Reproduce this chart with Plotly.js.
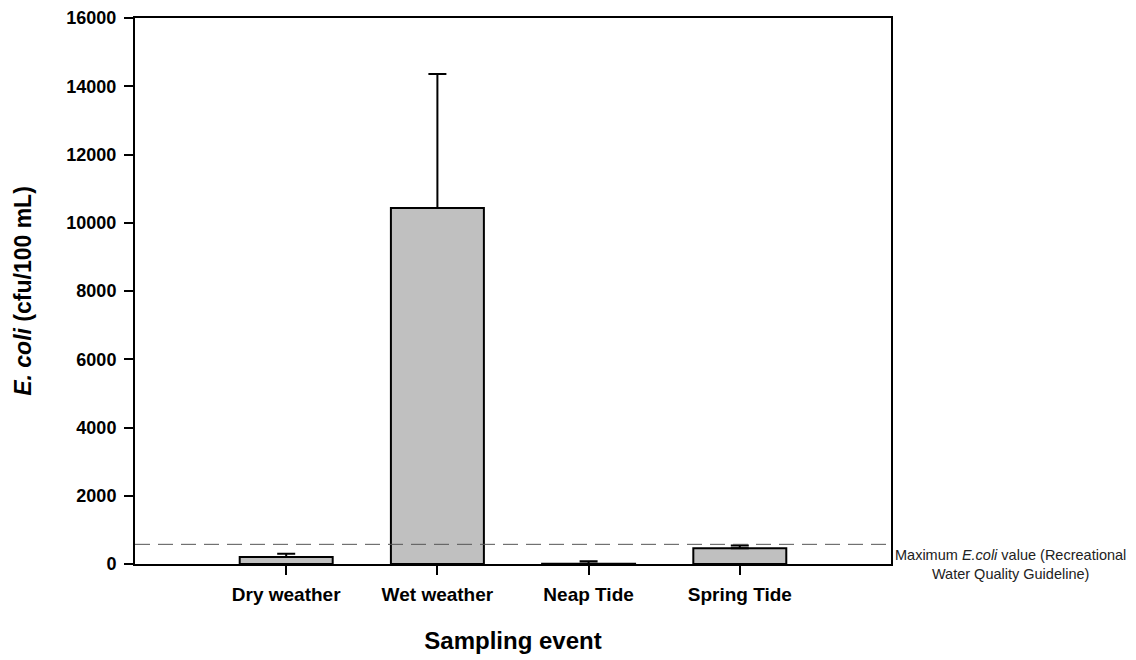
<!DOCTYPE html>
<html>
<head>
<meta charset="utf-8">
<script src="https://cdn.plot.ly/plotly-3.0.1.min.js"></script>
<style>html,body{margin:0;padding:0;background:#fff;}#chart{width:1136px;height:660px;}</style>
</head>
<body>
<div id="chart"></div>
<script>
const categories = ["Dry weather", "Wet weather", "Neap Tide", "Spring Tide"];
const meanValues = [205, 10430, 5, 465];
const errorPlus = [95, 3930, 75, 75];
const errorMinus = [0, 0, 0, 0];
const guidelineValue = 576;
const yTickValues = [0, 2000, 4000, 6000, 8000, 10000, 12000, 14000, 16000];
const yTickLabels = ["0", "2000", "4000", "6000", "8000", "10000", "12000", "14000", "16000"];

const font = "Liberation Sans, Arial, sans-serif";

const trace = {
  type: "bar",
  x: categories,
  y: meanValues,
  width: 0.615,
  marker: { color: "#c0c0c0", line: { color: "#000", width: 2 } },
  error_y: {
    type: "data", symmetric: false,
    array: errorPlus, arrayminus: errorMinus,
    color: "#000", thickness: 2, width: 9
  },
  hoverinfo: "x+y"
};

const layout = {
  width: 1136, height: 660,
  margin: { l: 135, r: 245, t: 18, b: 96 },
  paper_bgcolor: "#fff", plot_bgcolor: "#fff",
  showlegend: false,
  bargap: 0.385,
  xaxis: {
    type: "category",
    range: [-1, 4],
    showline: true, mirror: true, linecolor: "#000", linewidth: 2,
    ticks: "outside", ticklen: 9, tickwidth: 2, tickcolor: "#000",
    ticklabelstandoff: 3,
    showgrid: false, zeroline: false,
    tickfont: { family: font, size: 19, color: "#000", weight: "bold" },
    title: { text: "<b>Sampling event</b>", font: { family: font, size: 24, color: "#000" }, standoff: 28 }
  },
  yaxis: {
    range: [0, 16000],
    tickvals: yTickValues,
    ticktext: yTickLabels,
    showline: true, mirror: true, linecolor: "#000", linewidth: 2,
    ticks: "outside", ticklen: 9, tickwidth: 2, tickcolor: "#000",
    ticklabelstandoff: 4,
    showgrid: false, zeroline: false,
    tickfont: { family: font, size: 18, color: "#000", weight: "bold" },
    title: { text: "<b><i>E. coli</i> (cfu/100 mL)</b>", font: { family: font, size: 23, color: "#000" }, standoff: 28 }
  },
  shapes: [{
    type: "line", xref: "paper", x0: 0, x1: 1, yref: "y", y0: guidelineValue, y1: guidelineValue,
    line: { color: "#555", width: 1, dash: "15px,8px" }
  }],
  annotations: [{
    xref: "paper", x: 1.158, xanchor: "center",
    yref: "y", y: 0, yanchor: "middle",
    text: "Maximum <i>E.coli</i> value (Recreational<br>Water Quality Guideline)",
    showarrow: false, align: "center",
    font: { family: font, size: 14.5, color: "#222" }
  }]
};

Plotly.newPlot("chart", [trace], layout, { displayModeBar: false, staticPlot: true });
</script>
</body>
</html>
